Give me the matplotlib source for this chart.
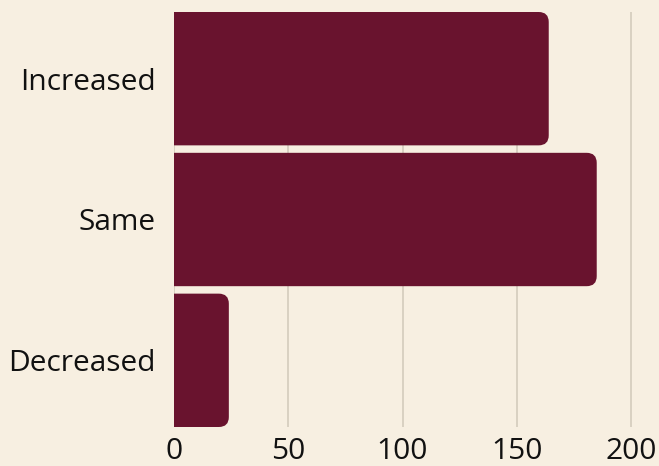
import matplotlib
matplotlib.use("Agg")
import matplotlib.pyplot as plt
from matplotlib.patches import FancyBboxPatch

categories = ["Decreased", "Same", "Increased"]
values = [24, 185, 164]
xticks = [0, 50, 100, 150, 200]

BG = "#f7efe1"
BAR = "#69132e"
GRID = "#d3cbbc"

plt.rcParams['font.family'] = ['Open Sans', 'DejaVu Sans']

fig = plt.figure(figsize=(6.59, 4.66), dpi=100, facecolor=BG)
ax = fig.add_axes([174/659, 39/466, 1 - 174/659, 415/466])
ax.set_facecolor(BG)

h = 0.947
xmax = (659 - 174) / 2.285
ax.set_xlim(0, xmax)
ax.set_ylim(-h/2, len(categories) - 1 + h/2)

bars = ax.barh(range(len(categories)), values, height=h, color="none")
fig.canvas.draw()
px_x = (ax.transData.transform((1, 0))[0] - ax.transData.transform((0, 0))[0])
px_y = (ax.transData.transform((0, 1))[1] - ax.transData.transform((0, 0))[1])
r_px = 10
r = r_px / px_x
aspect = px_x / px_y
for b in bars:
    x0, y0, w, hh = b.get_x(), b.get_y(), b.get_width(), b.get_height()
    p = FancyBboxPatch((x0 - 2 * r, y0), w + 2 * r, hh,
                       boxstyle=f"round,pad=0,rounding_size={r}",
                       mutation_aspect=aspect, facecolor=BAR, edgecolor="none",
                       zorder=3)
    ax.add_patch(p)
    b.set_visible(False)

ax.set_xticks(xticks)
ax.set_yticks(range(len(categories)))
ax.set_yticklabels(categories)
ax.grid(axis="x", color=GRID, linewidth=1.2, zorder=0)
ax.set_axisbelow(True)
for s in ax.spines.values():
    s.set_visible(False)
ax.tick_params(axis="both", length=0, labelsize=21.5, colors="#111111")
ax.tick_params(axis="y", pad=13)
ax.tick_params(axis="x", pad=7)

fig.savefig("out.png", dpi=100, facecolor=BG)
